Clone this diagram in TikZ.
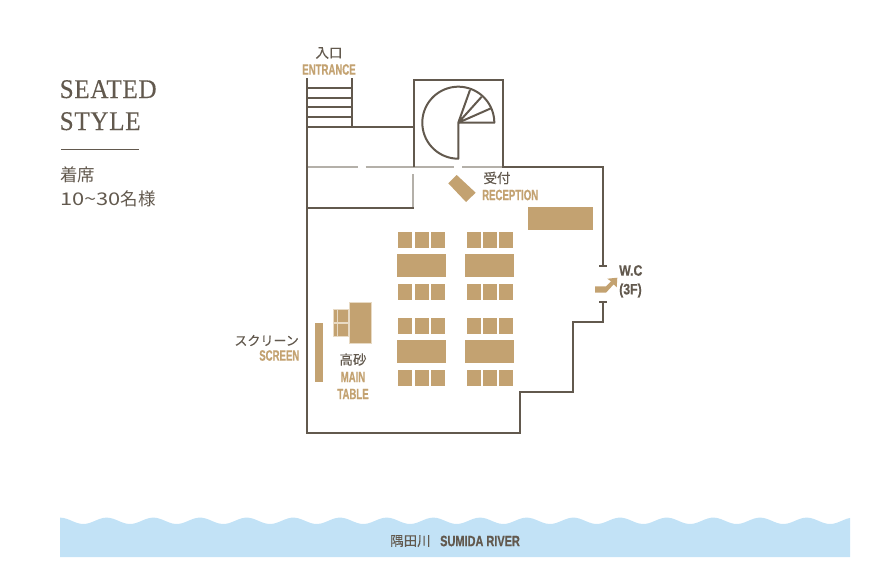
\documentclass[tikz,border=0pt]{standalone}
\usepackage{fontspec}
\setmainfont{Liberation Serif}
\newfontfamily\cjk[FakeBold=0.25]{Noto Sans CJK JP}
\newfontfamily\cjkplain{Noto Sans CJK JP}
\newfontfamily\digitf[FakeStretch=1.25]{Noto Sans CJK JP}
\newfontfamily\cond[FakeStretch=0.64,FakeBold=0.5]{Liberation Sans Bold}
\newfontfamily\condr[FakeStretch=0.73,FakeBold=0.5]{Liberation Sans Bold}
\newfontfamily\condw[FakeStretch=0.82,FakeBold=0.5]{Liberation Sans Bold}
\newfontfamily\titlef[LetterSpace=2.6,FakeStretch=0.93,FakeBold=0.3]{Liberation Serif}
\definecolor{wall}{HTML}{62594E}
\definecolor{gold}{HTML}{C3A271}
\definecolor{greywall}{HTML}{B4B0A9}
\definecolor{river}{HTML}{C2E2F6}
\definecolor{edgegold}{HTML}{E8DAC4}
\tikzset{
  wallline/.style={draw=wall,line width=2pt,line cap=butt,line join=miter},
  thinwall/.style={draw=wall,line width=1.6pt},
  lightwall/.style={draw=greywall,line width=2pt},
  furn/.style={fill=gold,draw=none},
  furnedge/.style={fill=gold,draw=edgegold,line width=0.7pt},
  jp/.style={inner sep=0,text=wall,font=\cjk\fontsize{13.5}{15}\selectfont},
  en/.style={inner sep=0,text=gold,font=\cond\fontsize{15}{17}\selectfont},
  endark/.style={inner sep=0,text=wall,font=\condr\fontsize{15}{17}\selectfont},
  wctext/.style={inner sep=0,text=wall,font=\condw\fontsize{15}{17}\selectfont},
  titletext/.style={inner sep=0,text=wall,anchor=base west,font=\titlef\fontsize{27}{29}\selectfont},
  subtext/.style={inner sep=0,text=wall,anchor=west,font=\cjkplain\fontsize{17.5}{19}\selectfont}
}
\begin{document}
\begin{tikzpicture}[x=1pt,y=-1pt]
\useasboundingbox (0,0) rectangle (894,584);
% river
\fill[river] (60,557) -- plot[domain=60:850,samples=240] (\x,{520.8-3.2*cos(7.7137*(\x-60))}) -- (850,557) -- cycle;
\node[jp,anchor=west] (riverjp) at (390,541) {隅田川};
\node[endark,anchor=west] (riveren) at (440,541) {SUMIDA RIVER};
% title
\node[titletext] (t1) at (59.5,98) {SEATED};
\node[titletext] (t2) at (59.5,130) {STYLE};
\draw[wall,line width=1pt] (61,149.5) -- (139,149.5);
\node[subtext] (s1) at (60,175) {着席};
\node[subtext] (s2) at (60,199) {{\digitf 10\char"7E 30}名様};
% light walls
\draw[lightwall] (306.7,167.3) -- (358,167.3) (365.7,167.3) -- (454,167.3) (462,167.3) -- (503,167.3);
\draw[lightwall] (413,174) -- (413,208.8);
% walls
\draw[wallline] (306.7,78) -- (306.7,434.2);
\draw[wallline] (352,78) -- (352,126.7);
\draw[thinwall] (306.7,88) -- (352,88) (306.7,107) -- (352,107);
\draw[wallline] (306.7,98) -- (352,98) (306.7,117) -- (352,117);
\draw[wallline] (306.7,126.7) -- (414,126.7);
\draw[wallline] (414,167.3) -- (414,80) -- (503.3,80) -- (503.3,167.3) -- (603,167.3) -- (603,266);
\draw[wallline] (306.7,208) -- (413.5,208);
\draw[wallline] (599,266) -- (607.3,266);
\draw[wallline] (599,302.3) -- (607.3,302.3);
\draw[wallline] (603,302.3) -- (603,322.3) -- (573.3,322.3) -- (573.3,392) -- (520,392) -- (520,433.4) -- (306.7,433.4);
% spiral stair
\draw[wallline,line join=round] plot[domain=90:360,samples=80] ({458.3+36*cos(\x)},{122.7+36*sin(\x)}) -- (458.3,122.7) -- cycle;
\draw[wallline] (458.3,122.7) -- (470,90) (458.3,122.7) -- (481.7,96.7) (458.3,122.7) -- (491,108.3);
% chairs and tables
\foreach \ry in {232,284,318,370} {
  \foreach \cx in {398,415,431,467,483,499} {
    \fill[furn] (\cx,\ry) rectangle ++(14,16);
  }
}
\foreach \ry in {254,340} {
  \foreach \cx in {397,465} {
    \fill[furn] (\cx,\ry) rectangle ++(49,23);
  }
}
\fill[furn] (528,207) rectangle (593,230);
\fill[furn] (456.7,175) -- (475.7,192.7) -- (466,202) -- (448.3,183.3) -- cycle;
% main table
\filldraw[furnedge] (349.3,302.7) rectangle (371.7,343.7);
\filldraw[furnedge] (333,309.3) rectangle (348.3,322.7);
\filldraw[furnedge] (333,323.7) rectangle (348.3,336.7);
\draw[edgegold,line width=0.7pt] (337,309.3) -- (337,336.7);
\fill[furn] (315,323) rectangle (323,381.7);
% arrow
\fill[furn] (595,286.3) -- (606,286.3) -- (611,281.3) -- (607.3,278.7) -- (617.3,277.7) -- (616.7,287.3) -- (613.7,284.3) -- (606,292.7) -- (595,292.7) -- cycle;
% labels
\node[jp] (entj) at (329,53) {入口};
\node[en] (ente) at (329,69.5) {ENTRANCE};
\node[jp] (recj) at (497,178) {受付};
\node[en,anchor=west] (rece) at (482,195) {RECEPTION};
\node[jp,anchor=east,font=\cjk\fontsize{13}{15}\selectfont] (scrj) at (299,340.5) {スクリーン};
\node[en,anchor=east] (scre) at (299.5,355.5) {SCREEN};
\node[jp] (mainj) at (353,359.5) {高砂};
\node[en] (maine) at (353,377) {MAIN};
\node[en] (table) at (353,394) {TABLE};
\node[wctext,anchor=west] (wc) at (619,270.5) {W.C};
\node[wctext,anchor=west] (wcf) at (619,290.5) {(3F)};
\end{tikzpicture}
\end{document}
